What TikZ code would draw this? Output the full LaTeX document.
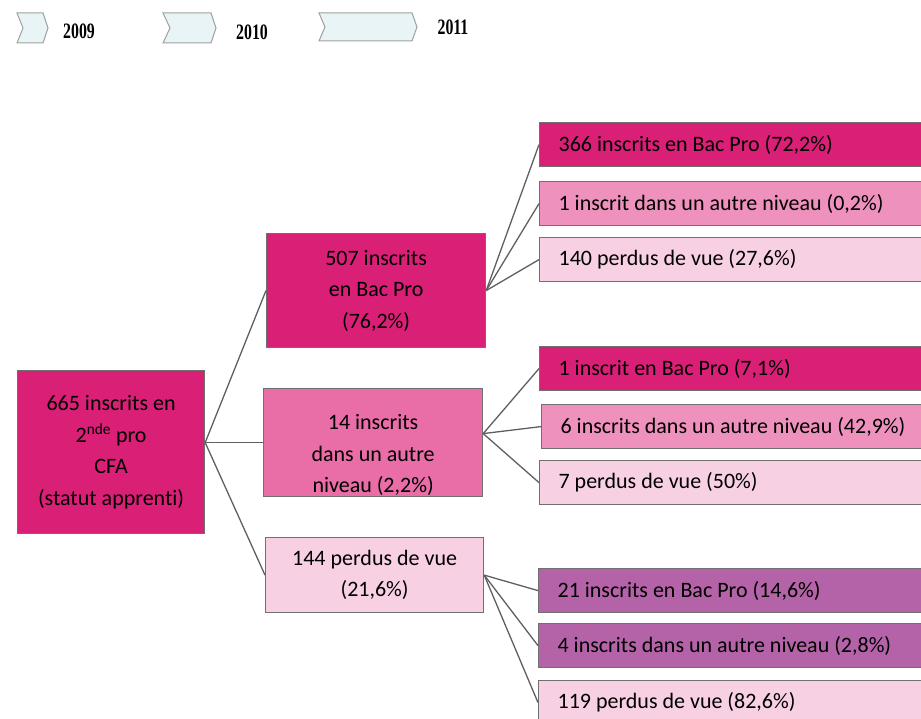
\documentclass[tikz,border=0pt]{standalone}
\usepackage{fontspec}
\setmainfont{Carlito}[Ligatures=NoCommon]
\newfontfamily\yearfont{Liberation Serif}
\usetikzlibrary{calc}

\definecolor{rosefonce}{HTML}{DA1F77}
\definecolor{rosemoyen}{HTML}{E96DA7}
\definecolor{roseclair}{HTML}{EF91BD}
\definecolor{rosepale}{HTML}{F8D0E4}
\definecolor{prune}{HTML}{B563A8}
\definecolor{bordure}{HTML}{707070}
\definecolor{trait}{HTML}{5F5F5F}
\definecolor{fleche}{HTML}{E8F4F6}

\begin{document}
\begin{tikzpicture}[x=1pt,y=-1pt,
  box/.style={draw=bordure,line width=1.2pt,anchor=north west,align=center,
    inner sep=0pt,font=\fontsize{22}{31.5}\selectfont},
  leaf/.style={box,minimum width=420pt,minimum height=44pt,text width=382pt,
    align=flush left,inner xsep=19pt},
  link/.style={draw=trait,line width=1.3pt},
  chevron/.style={fill=fleche,draw=gray!75,line width=1pt},
  year/.style={font=\yearfont\bfseries\fontsize{22}{22}\selectfont}]
\useasboundingbox (0,0) rectangle (921,719);
\clip (0,0) rectangle (921,719);

\draw[chevron] (17,13) -- (43,13) -- (48,28) -- (43,43) -- (17,43) -- (23,28) -- cycle;
\draw[chevron] (163,13) -- (211,13) -- (216,28) -- (211,43) -- (163,43) -- (170,28) -- cycle;
\draw[chevron] (319,13) -- (412,13) -- (417,27) -- (412,41) -- (319,41) -- (325,27) -- cycle;
\node[year] (y2009) at (79,31) {\scalebox{0.72}[1]{2009}};
\node[year] (y2010) at (252,32) {\scalebox{0.72}[1]{2010}};
\node[year] (y2011) at (453,27) {\scalebox{0.72}[1]{2011}};

\node[box,fill=rosefonce,minimum width=187pt,minimum height=163pt] (root) at (17,370)
  {665 inscrits en\\2\textsuperscript{nde} pro\\CFA\\(statut apprenti)};

\node[box,fill=rosefonce,minimum width=219pt,minimum height=114pt] (b507) at (266,233)
  {507 inscrits\\en Bac Pro\\(76,2\%)};
\node[box,fill=rosemoyen,minimum width=219pt,minimum height=108pt] (b14) at (263,388)
  {\rule{0pt}{40pt}14 inscrits\\dans un autre\\niveau (2,2\%)};
\node[box,fill=rosepale,minimum width=218pt,minimum height=75pt] (b144) at (265,537)
  {144 perdus de vue\\(21,6\%)};

\node[leaf,fill=rosefonce] (f366) at (539,122) {366 inscrits en Bac Pro (72,2\%)};
\node[leaf,fill=roseclair] (f1n) at (539,181) {1 inscrit dans un autre niveau (0,2\%)};
\node[leaf,fill=rosepale] (f140) at (539,237) {140 perdus de vue (27,6\%)};

\node[leaf,fill=rosefonce] (f1b) at (539,346) {1 inscrit en Bac Pro (7,1\%)};
\node[leaf,fill=roseclair] (f6n) at (541,404) {6 inscrits dans un autre niveau (42,9\%)};
\node[leaf,fill=rosepale] (f7p) at (539,460) {7 perdus de vue (50\%)};

\node[leaf,fill=prune] (f21) at (538,568) {21 inscrits en Bac Pro (14,6\%)};
\node[leaf,fill=prune] (f4n) at (538,623) {4 inscrits dans un autre niveau (2,8\%)};
\node[leaf,fill=rosepale] (f119) at (538,680) {119 perdus de vue (82,6\%)};

\foreach \n in {b507,b14,b144}
  \draw[link] (root.east |- b14.west) -- (\n.west);
\foreach \n in {f366,f1n,f140}
  \draw[link] (b507.east) -- (\n.west);
\foreach \n in {f1b,f6n,f7p}
  \draw[link] ($(b14.east)+(0,-9)$) -- (\n.west);
\foreach \n in {f21,f4n,f119}
  \draw[link] (b144.east) -- (\n.west);
\end{tikzpicture}
\end{document}
